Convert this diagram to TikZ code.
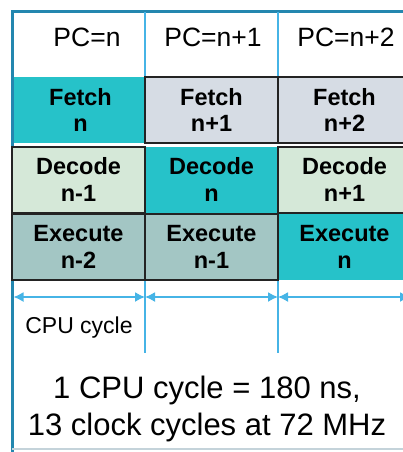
\documentclass[tikz,border=0pt]{standalone}
\usepackage{fontspec}
\setmainfont{Liberation Sans}
\usetikzlibrary{arrows.meta, positioning}
\definecolor{FrameTeal}{RGB}{35,135,175}
\definecolor{RuleBlue}{RGB}{70,180,230}
\definecolor{ActiveTeal}{RGB}{38,194,201}
\definecolor{FetchGray}{RGB}{214,220,228}
\definecolor{DecodeGreen}{RGB}{213,232,216}
\definecolor{ExecGray}{RGB}{163,198,196}
\definecolor{EdgeDark}{RGB}{35,35,35}

\tikzset{
    stagebox/.style={rectangle, draw=EdgeDark, line width=2pt, minimum width=133pt,
        minimum height=66pt, inner sep=0pt, align=center,
        font=\fontsize{23.5}{26.5}\selectfont\bfseries},
    activebox/.style={stagebox, draw=none, fill=ActiveTeal},
    pclabel/.style={anchor=base, inner sep=0pt, font=\fontsize{26.5}{30}\selectfont},
    rule/.style={RuleBlue, line width=1.5pt},
    cyclearrow/.style={RuleBlue, line width=1.5pt, {Latex[length=10pt,width=10pt]}-{Latex[length=10pt,width=10pt]}}
}

\begin{document}
\begin{tikzpicture}[x=1pt, y=-1pt]
    \useasboundingbox (0,0) rectangle (403,452);
    % outer frame
    \draw[FrameTeal, line width=3pt] (12,452) -- (12,12) -- (415,12);
    \draw[RuleBlue!35!gray!40, line width=1.5pt] (12,449) -- (415,449);
    % column rules
    \foreach \x in {145,278} {
        \draw[rule] (\x,12) -- (\x,77);
        \draw[rule] (\x,281) -- (\x,353);
    }
    % program counter
    \node[pclabel] (pcA) at (87,47) {PC=n};
    \node[pclabel] (pcB) at (213,47) {PC=n+1};
    \node[pclabel] (pcC) at (346,47) {PC=n+2};
    % active stages
    \node[activebox] (fetchA) at (80.5,110) {Fetch\\n};
    \node[activebox] (decodeB) at (211.5,179.5) {Decode\\n};
    \node[activebox] (execC) at (344.5,247) {Execute\\n};
    % waiting stages
    \node[stagebox, fill=FetchGray] (fetchB) at (211.5,110) {Fetch\\n+1};
    \node[stagebox, fill=FetchGray] (fetchC) at (344.5,110) {Fetch\\n+2};
    \node[stagebox, fill=DecodeGreen] (decodeA) at (78.5,179.5) {Decode\\n-1};
    \node[stagebox, fill=DecodeGreen] (decodeC) at (344.5,179.5) {Decode\\n+1};
    \node[stagebox, fill=ExecGray] (execA) at (78.5,247) {Execute\\n-2};
    \node[stagebox, fill=ExecGray] (execB) at (211.5,247) {Execute\\n-1};
    % cycle arrows
    \coordinate (tick0) at (13.5,297);
    \coordinate (tick1) at (145,297);
    \coordinate (tick2) at (278,297);
    \coordinate (tick3) at (410,297);
    \draw[cyclearrow] (tick0) -- (tick1);
    \draw[cyclearrow] (tick1) -- (tick2);
    \draw[cyclearrow] (tick2) -- (tick3);
    \node[anchor=base, inner sep=0pt, font=\fontsize{23}{26}\selectfont] (cyclelabel) at (79,333) {CPU cycle};
    \node[align=center, inner sep=0pt, font=\fontsize{31}{37}\selectfont] (timing) at (207,408.5)
        {1 CPU cycle = 180 ns,\\13 clock cycles at 72 MHz};
\end{tikzpicture}
\end{document}
